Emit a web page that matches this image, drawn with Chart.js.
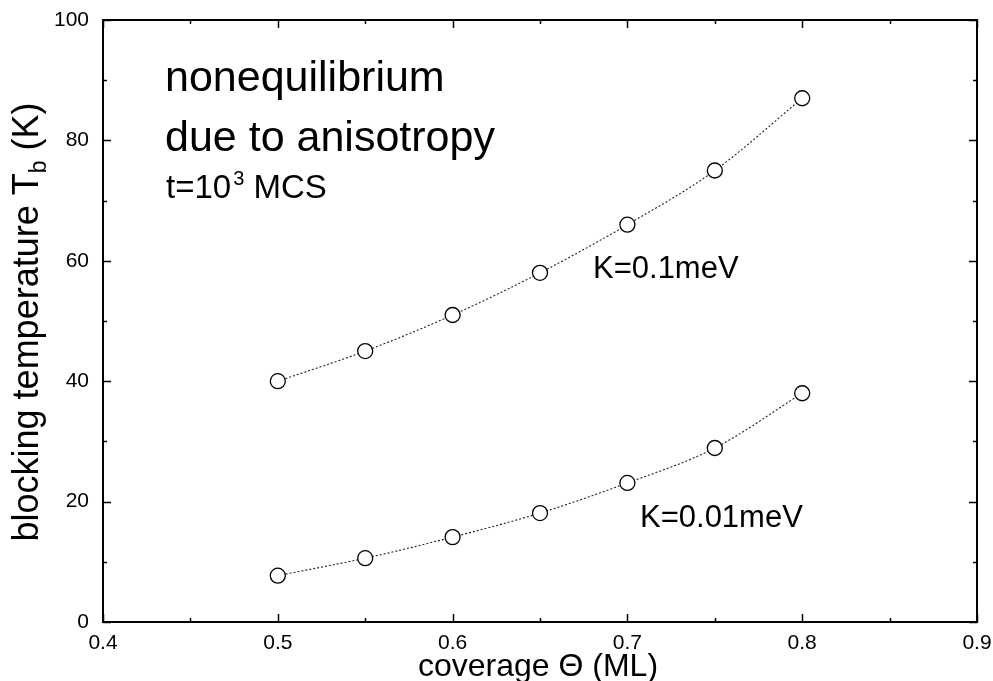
<!DOCTYPE html>
<html>
<head>
<meta charset="utf-8">
<script src="https://cdn.jsdelivr.net/npm/chart.js@4/dist/chart.umd.min.js"></script>
<style>
html,body{margin:0;padding:0;background:#fff;}
#wrap{width:993px;height:681px;position:relative;}
</style>
</head>
<body>
<div id="wrap"><canvas id="c" width="993" height="681"></canvas></div>
<script>
const coverage = [0.5, 0.55, 0.6, 0.65, 0.7, 0.75, 0.8];
const tbHighK = [40, 45, 51, 58, 66, 75, 87];
const tbLowK = [7.7, 10.6, 14.1, 18.1, 23.1, 28.9, 38];
const xTicks = [0.4, 0.5, 0.6, 0.7, 0.8, 0.9];
const yTicks = [0, 20, 40, 60, 80, 100];
const xMinor = [0.45, 0.55, 0.65, 0.75, 0.85];
const yMinor = [10, 30, 50, 70, 90];

const FONT = '"Liberation Sans", Arial, Helvetica, sans-serif';

function pts(xs, ys){ return xs.map((x,i)=>({x:x, y:ys[i]})); }

const seriesStyle = {
  showLine: true,
  borderColor: '#222',
  borderWidth: 1.1,
  borderDash: [2, 2],
  cubicInterpolationMode: 'monotone',
  pointRadius: 7.5,
  pointBorderWidth: 1.3,
  pointBorderColor: '#000',
  pointBackgroundColor: '#fff',
  fill: false
};

const framePlugin = {
  id: 'frame',
  afterDraw(chart){
    const ctx = chart.ctx;
    const a = chart.chartArea;
    const xs = chart.scales.x, ys = chart.scales.y;
    ctx.save();
    ctx.strokeStyle = '#000';
    ctx.lineWidth = 2;
    ctx.strokeRect(a.left, a.top, a.right - a.left, a.bottom - a.top);
    ctx.lineWidth = 1.5;
    ctx.beginPath();
    const tickX = (v, len) => {
      const p = Math.round(xs.getPixelForValue(v)) + 0.5;
      ctx.moveTo(p, a.bottom); ctx.lineTo(p, a.bottom - len);
      ctx.moveTo(p, a.top); ctx.lineTo(p, a.top + len);
    };
    const tickY = (v, len) => {
      const p = Math.round(ys.getPixelForValue(v)) + 0.5;
      ctx.moveTo(a.left, p); ctx.lineTo(a.left + len, p);
      ctx.moveTo(a.right, p); ctx.lineTo(a.right - len, p);
    };
    xTicks.forEach(v => tickX(v, 8));
    xMinor.forEach(v => tickX(v, 4));
    yTicks.forEach(v => tickY(v, 8));
    yMinor.forEach(v => tickY(v, 4));
    ctx.stroke();

    ctx.fillStyle = '#000';
    ctx.textBaseline = 'alphabetic';
    ctx.textAlign = 'left';
    // annotations
    ctx.font = '43px ' + FONT;
    ctx.fillText('nonequilibrium', 165, 91);
    ctx.fillText('due to anisotropy', 165, 151);
    ctx.font = '33px ' + FONT;
    let x0 = 166;
    ctx.fillText('t=10', x0, 198);
    let w = ctx.measureText('t=10').width;
    ctx.font = '20px ' + FONT;
    ctx.fillText('3', x0 + w + 2, 185);
    let w2 = ctx.measureText('3').width;
    ctx.font = '33px ' + FONT;
    ctx.fillText(' MCS', x0 + w + 2 + w2, 198);

    ctx.font = '31px ' + FONT;
    ctx.fillText('K=0.1meV', 593, 278);
    ctx.fillText('K=0.01meV', 640, 527);

    // x title
    ctx.font = '32px ' + FONT;
    ctx.textAlign = 'center';
    ctx.fillText('coverage \u0398 (ML)', 538, 676);

    // y title with subscript
    ctx.save();
    ctx.translate(38, 322);
    ctx.rotate(-Math.PI/2);
    const f1 = '36px ' + FONT, f2 = '23px ' + FONT;
    ctx.font = f1;
    const p1 = 'blocking temperature T';
    const p3 = ' (K)';
    const wa = ctx.measureText(p1).width;
    const wc = ctx.measureText(p3).width;
    ctx.font = f2;
    const wb = ctx.measureText('b').width;
    const total = wa + wb + wc;
    let sx = -total/2;
    ctx.textAlign = 'left';
    ctx.font = f1;
    ctx.fillText(p1, sx, 0);
    ctx.font = f2;
    ctx.fillText('b', sx + wa, 8);
    ctx.font = f1;
    ctx.fillText(p3, sx + wa + wb, 0);
    ctx.restore();
    ctx.restore();
  }
};

new Chart(document.getElementById('c'), {
  type: 'scatter',
  data: {
    datasets: [
      Object.assign({ label: 'K=0.1meV', data: pts(coverage, tbHighK) }, seriesStyle),
      Object.assign({ label: 'K=0.01meV', data: pts(coverage, tbLowK) }, seriesStyle)
    ]
  },
  options: {
    responsive: false,
    animation: false,
    layout: { padding: { top: 20, right: 16, left: 0, bottom: 0 } },
    plugins: { legend: { display: false }, tooltip: { enabled: false } },
    scales: {
      x: {
        type: 'linear', min: 0.4, max: 0.9,
        afterBuildTicks(s){ s.ticks = xTicks.map(v => ({value: v})); },
        afterFit(s){ s.height = 59; s.paddingLeft = 0; s.paddingRight = 0; },
        grid: { display: false, drawTicks: false },
        border: { display: false },
        ticks: { color: '#000', font: { family: FONT, size: 21 }, padding: 9, maxRotation: 0,
                 callback: v => Number(v).toFixed(1) }
      },
      y: {
        type: 'linear', min: 0, max: 100,
        afterBuildTicks(s){ s.ticks = yTicks.map(v => ({value: v})); },
        afterFit(s){ s.width = 103; s.paddingTop = 0; s.paddingBottom = 0; },
        grid: { display: false, drawTicks: false },
        border: { display: false },
        ticks: { color: '#000', font: { family: FONT, size: 21 }, padding: 14,
                 callback: v => String(v) }
      }
    }
  },
  plugins: [framePlugin]
});
</script>
</body>
</html>
